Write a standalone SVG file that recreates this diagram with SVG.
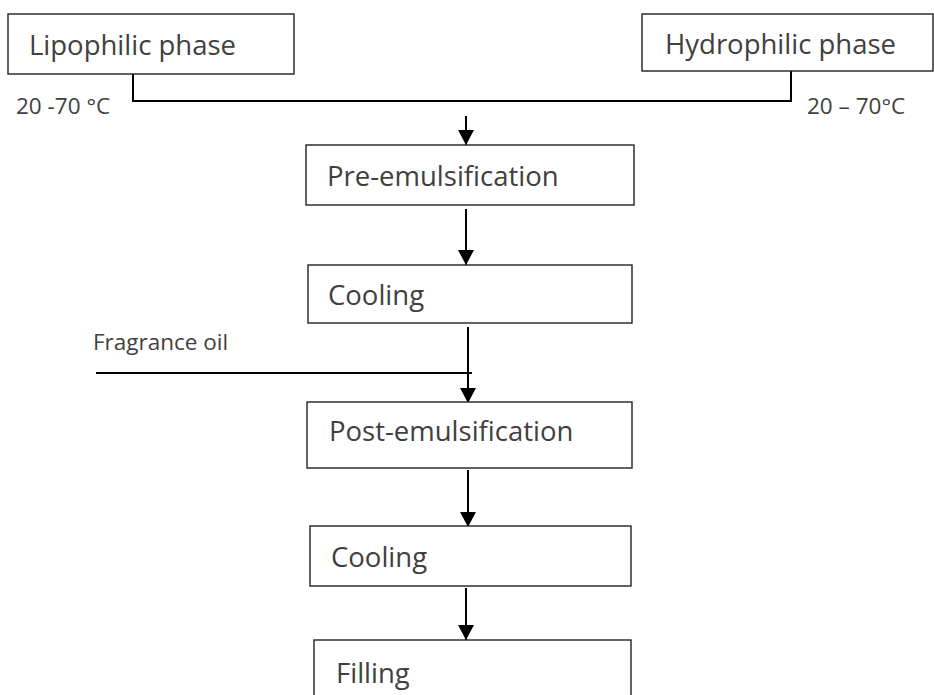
<svg xmlns="http://www.w3.org/2000/svg" width="934" height="695" viewBox="0 0 934 695">
<defs>
<marker id="ah" markerUnits="userSpaceOnUse" markerWidth="16" markerHeight="16" viewBox="0 0 16 16" refX="15" refY="8" orient="auto">
<path d="M0,0 L15,8 L0,16 Z" fill="#000"/>
</marker>
<style>
.box{fill:#fff;stroke:#222;stroke-width:1.4}
.lbl{font-family:"Open Sans","Liberation Sans",sans-serif;font-size:27.5px;fill:#404040}
.sm{font-family:"Open Sans","Liberation Sans",sans-serif;font-size:22.5px;fill:#404040}
.ln{fill:none;stroke:#000;stroke-width:2}
</style>
</defs>
<rect width="934" height="695" fill="#fff"/>
<g id="connectors">
<path class="ln" d="M133,74 V101 H791 V71"/>
<line class="ln" x1="96" y1="373" x2="472" y2="373"/>
<line class="ln" x1="466" y1="116" x2="466" y2="145" marker-end="url(#ah)"/>
<line class="ln" x1="466" y1="209" x2="466" y2="265" marker-end="url(#ah)"/>
<line class="ln" x1="468" y1="327" x2="468" y2="403" marker-end="url(#ah)"/>
<line class="ln" x1="468" y1="470" x2="468" y2="527" marker-end="url(#ah)"/>
<line class="ln" x1="466" y1="588" x2="466" y2="640" marker-end="url(#ah)"/>
</g>
<g id="lipophilic">
<rect class="box" x="8" y="14" width="286" height="60"/>
<text class="lbl" x="29" y="55">Lipophilic phase</text>
<text class="sm" x="16" y="114">20 -70 °C</text>
</g>
<g id="hydrophilic">
<rect class="box" x="642" y="14" width="291" height="57"/>
<text class="lbl" x="665" y="54">Hydrophilic phase</text>
<text class="sm" x="807" y="114">20 – 70°C</text>
</g>
<g id="pre-emulsification">
<rect class="box" x="306" y="145" width="328" height="60"/>
<text class="lbl" x="327" y="186">Pre-emulsification</text>
</g>
<g id="cooling1">
<rect class="box" x="308" y="265" width="324" height="58"/>
<text class="lbl" x="328" y="305">Cooling</text>
</g>
<g id="fragrance">
<text class="sm" x="93" y="350">Fragrance oil</text>
</g>
<g id="post-emulsification">
<rect class="box" x="307" y="402" width="325" height="66"/>
<text class="lbl" x="329" y="441">Post-emulsification</text>
</g>
<g id="cooling2">
<rect class="box" x="310" y="526" width="321" height="60"/>
<text class="lbl" x="331" y="567">Cooling</text>
</g>
<g id="filling">
<rect class="box" x="314" y="640" width="317" height="70"/>
<text class="lbl" x="336" y="683">Filling</text>
</g>
</svg>
